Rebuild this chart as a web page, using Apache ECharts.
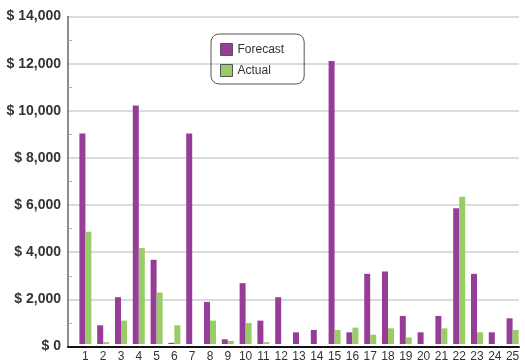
<!DOCTYPE html>
<html>
<head>
<meta charset="utf-8">
<script src="https://cdn.jsdelivr.net/npm/echarts@6/dist/echarts.min.js"></script>
<style>
  html, body { margin: 0; padding: 0; background: #fff; }
  #chart { width: 525px; height: 363px; }
</style>
</head>
<body>
<div id="chart"></div>
<script>
// data
const categories = ['1', '2', '3', '4', '5', '6', '7', '8', '9', '10', '11', '12', '13',
  '14', '15', '16', '17', '18', '19', '20', '21', '22', '23', '24', '25']
const forecast = [9000, 800, 2000, 10200, 3600, 50, 9000, 1800, 200, 2600, 1000, 2000, 500,
  600, 12100, 500, 3000, 3100, 1200, 500, 1200, 5800, 3000, 500, 1100]
const actual = [4800, 80, 1000, 4100, 2200, 800, 0, 1000, 130, 900, 80, 0, 0,
  0, 600, 700, 400, 670, 280, 0, 670, 6300, 500, 0, 600]
const yMin = 0
const yMax = 14000
const yStep = 2000

const font = "'Liberation Sans', Arial, sans-serif"

const chart = echarts.init(document.getElementById('chart'))

const option = {
  animation: false,
  legend: {
    orient: 'vertical',
    left: 211,
    top: 34,
    padding: [9, 20, 7, 9],
    itemWidth: 12,
    itemHeight: 12,
    itemGap: 8,
    icon: 'rect',
    borderColor: '#555',
    borderWidth: 1,
    borderRadius: 8,
    itemStyle: { borderColor: '#555', borderWidth: 1 },
    textStyle: { fontFamily: font, fontSize: 12, color: '#333' },
    data: ['Forecast', 'Actual']
  },
  // grid 0: axis frame and grid lines, grid 1: the bars
  grid: [
    { left: 68, right: 6, top: 16.5, bottom: 16.5 },
    { left: 76.5, right: 3.5, top: 16.5, bottom: 16.5 }
  ],
  xAxis: [
    {
      gridIndex: 0,
      type: 'value',
      min: 0,
      max: 1,
      z: 5,
      axisLine: { show: true, lineStyle: { color: '#111', width: 2 } },
      axisTick: { show: false },
      axisLabel: { show: false },
      splitLine: { show: false }
    },
    {
      gridIndex: 1,
      type: 'category',
      data: categories,
      axisLine: { show: false },
      axisTick: { show: false },
      axisLabel: {
        interval: 0,
        margin: 7,
        fontFamily: font,
        fontSize: 12,
        color: '#333'
      }
    }
  ],
  yAxis: [
    {
      gridIndex: 0,
      type: 'value',
      min: yMin,
      max: yMax,
      interval: yStep,
      axisLine: { show: true, lineStyle: { color: '#666', width: 1.5 } },
      axisTick: { show: false, inside: true },
      minorTick: { show: true, splitNumber: 2, length: 4, lineStyle: { color: '#aaa' } },
      splitLine: { show: true, lineStyle: { color: '#cfcfcf', width: 1.5 } },
      axisLabel: {
        margin: 7,
        fontFamily: font,
        fontSize: 14,
        fontWeight: 'bold',
        color: '#333',
        formatter: (v) => '$ ' + v.toLocaleString('en-US')
      }
    },
    {
      gridIndex: 1,
      type: 'value',
      min: yMin,
      max: yMax,
      interval: yStep,
      show: false,
      splitLine: { show: false }
    }
  ],
  series: [
    {
      name: 'Forecast',
      type: 'bar',
      xAxisIndex: 1,
      yAxisIndex: 1,
      barWidth: 6,
      barGap: 0,
      itemStyle: { color: '#963e97' },
      data: forecast
    },
    {
      name: 'Actual',
      type: 'bar',
      xAxisIndex: 1,
      yAxisIndex: 1,
      barWidth: 6,
      barGap: 0,
      itemStyle: { color: '#99cc66' },
      data: actual
    }
  ]
}

chart.setOption(option)
</script>
</body>
</html>
